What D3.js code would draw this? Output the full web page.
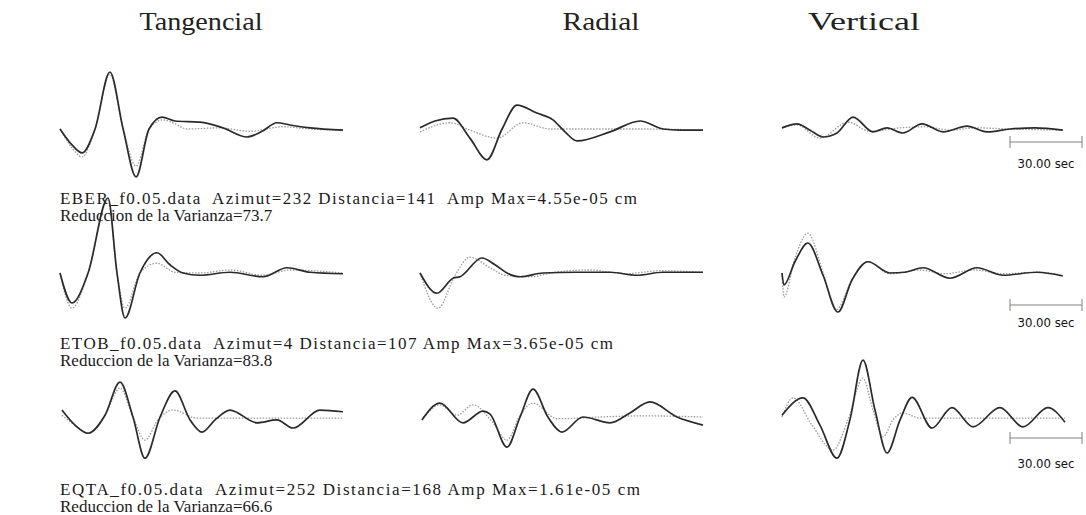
<!DOCTYPE html>
<html>
<head>
<meta charset="utf-8">
<script src="https://cdn.jsdelivr.net/npm/d3@7"></script>
<style>
  html, body { margin: 0; padding: 0; background: #fff; }
  svg { display: block; }
</style>
</head>
<body>
<svg id="chart" width="1086" height="515"></svg>
<script>
// Waveform fit: observed (solid) vs synthetic (dotted) displacement
// for three stations and three components. Time in seconds, amplitude
// in percent of the station's maximum amplitude.

const components = ["Tangencial", "Radial", "Vertical"];
const stations = ["EBER_f0.05.data", "ETOB_f0.05.data", "EQTA_f0.05.data"];
const azimuths = [232, 4, 252];
const distances = [141, 107, 168];
const ampMax = ["4.55e-05", "3.65e-05", "1.61e-05"];
const varianceReduction = ["73.7", "83.8", "66.6"];
const scaleBarSeconds = 30;

// ---- EBER ----
const eberTanObs = [[0,0],[5,-28],[9.2,-42],[14.6,0],[20.8,100],[26.3,0],[31.7,-84],[37.1,0],[42.5,21],[47.9,14],[58.3,12],[67.9,2],[77.9,-14],[84.2,-4],[90.4,11],[95.8,7],[104.2,2],[117.9,-2]];
const eberTanSyn = [[0,0],[5,-33],[9.2,-49],[14.6,0],[20.8,96],[26.3,0],[31.7,-65],[37.1,0],[42.9,16],[47.9,9],[52.9,0],[66.7,2],[79.2,-4],[92.9,4],[104.2,0],[117.9,-2]];
const eberRadObs = [[0,2],[6.25,14],[13.75,19],[20.8,-16],[27.9,-54],[34.2,0],[40.4,42],[48.75,28],[55.4,16],[60.4,-5],[65.4,-21],[79.2,-5],[91.7,14],[101.25,0],[108.3,-2],[117.9,-2]];
const eberRadSyn = [[0,-5],[12.5,11],[20.8,-2],[32.1,-16],[42.9,11],[54.2,0],[75,0],[92.9,0],[117.9,-2]];
const eberVerObs = [[0,2],[6.25,9],[11.7,-2],[17.1,-14],[22.9,-7],[29.6,21],[37.9,-5],[43.75,2],[50.4,-7],[58.3,9],[67.1,-5],[77.1,5],[85.4,-5],[95,0],[105.4,2],[117,-2]];
const eberVerSyn = [[0,2],[6.25,7],[15.8,-16],[27.5,12],[36.7,-4],[49.2,2],[59.6,4],[70,-2],[80.4,2],[95,0],[117,-2]];

// ---- ETOB ----
const etobTanObs = [[0,0],[5,-40],[11.7,0],[20,100],[23.75,0],[27.1,-60],[33.3,0],[40.4,27],[45.8,11],[51.25,0],[58.3,-3],[70.8,1],[84.6,-5],[94.6,7],[104.2,1],[117.9,-1]];
const etobTanSyn = [[0,0],[5,-47],[11.7,0],[20,97],[23.75,0],[27.1,-47],[33.3,0],[40.4,13],[47.9,1],[58.3,0],[70.8,4],[84.6,-3],[95.8,4],[117.9,0]];
const etobRadObs = [[0,0],[7.1,-27],[13.75,-7],[16.7,-5],[25.8,20],[31.25,11],[36.25,0],[41.7,-5],[51.25,0],[64.6,1],[79.2,1],[90.4,-3],[101.25,1],[117.9,1]];
const etobRadSyn = [[0,0],[7.5,-47],[14.6,-3],[20.8,21],[29.2,7],[35.4,-3],[45.8,-5],[56.25,1],[70.8,4],[85.4,-1],[100,3],[117.9,1]];
const etobVerObs = [[0,0],[0.8,-16],[5.4,15],[10.8,40],[17.1,-3],[23.3,-52],[29.2,-9],[35.8,15],[45,0],[51.25,1],[58.75,7],[70,-7],[81.25,7],[92.1,-3],[106.25,1],[117,-4]];
const etobVerSyn = [[0,0],[0.8,-32],[5.4,20],[10.8,53],[17.1,1],[22.5,-49],[29.2,-9],[35.8,15],[45,-1],[57.5,4],[67.9,-1],[80.4,4],[92.1,-1],[106.25,1],[117,-3]];

// ---- EQTA ----
const eqtaTanObs = [[0.8,12],[6.25,-14],[11.7,-28],[18.75,3],[25,60],[30.4,0],[35.4,-71],[41.7,0],[47.9,45],[54.2,-5],[59.2,-26],[64.6,-5],[70.8,12],[82.1,-10],[90.4,-5],[97.1,-19],[108.3,12],[117.9,9]];
const eqtaTanSyn = [[0.8,3],[6.25,-14],[11.7,-28],[18.75,3],[25,50],[30.4,0],[35.4,-40],[40.8,-5],[47.1,12],[57.1,-2],[83.3,-2],[117.9,-2]];
const eqtaRadObs = [[0.8,-5],[8.3,24],[17.9,-10],[26.25,10],[29.2,5],[36.25,-52],[41.7,0],[47.1,48],[53.3,0],[59.2,-26],[67.9,0],[79.2,-10],[87.5,7],[95.8,26],[107.1,0],[117.9,-14]];
const eqtaRadSyn = [[0.8,-5],[8.3,21],[15.4,3],[22.1,21],[30.4,-10],[36.25,-40],[41.7,3],[47.1,24],[57.1,-3],[75,0],[92.9,2],[117.9,0]];
const eqtaVerObs = [[0,3],[8.75,33],[15.8,-14],[22.9,-71],[28.3,-5],[33.75,98],[38.75,12],[43.75,-62],[49.2,-5],[54.2,34],[62.5,-19],[70.8,16],[79.6,-17],[90.8,16],[100.4,-17],[110.8,16],[117.9,-9]];
const eqtaVerSyn = [[0,0],[4.6,33],[12.5,-14],[21.25,-57],[27.5,-5],[33.75,67],[37.9,12],[42.1,-34],[46.25,-5],[50.4,7],[57.5,-2],[90.8,-2],[117.9,-2]];

const observed = [
  [eberTanObs, eberRadObs, eberVerObs],
  [etobTanObs, etobRadObs, etobVerObs],
  [eqtaTanObs, eqtaRadObs, eqtaVerObs]
];
const synthetic = [
  [eberTanSyn, eberRadSyn, eberVerSyn],
  [etobTanSyn, etobRadSyn, etobVerSyn],
  [eqtaTanSyn, eqtaRadSyn, eqtaVerSyn]
];

// ---- layout ----
const colX0 = [60, 420, 782];
const pxPerSecond = 2.4;
const rowBaseline = [129, 273, 417];
const rowHalfHeight = [57, 75, 58];
const barY = [142, 305, 438];
const barLabelY = [168, 327, 468];
const infoY = [204, 349, 495];
const titleX = [201, 601, 864];
const titleWidth = [123, 77, 112];
const infoWidth = [577, 553, 580];
const infoGap = ["  ", " ", " "];

const svg = d3.select("#chart");
const serif = "'Liberation Serif', 'DejaVu Serif', serif";

// Column titles
svg.selectAll("text.title")
  .data(components)
  .join("text")
  .attr("class", "title")
  .attr("x", (d, i) => titleX[i])
  .attr("y", 30)
  .attr("text-anchor", "middle")
  .attr("font-family", serif)
  .attr("font-size", 25)
  .attr("fill", "#222")
  .attr("textLength", (d, i) => titleWidth[i])
  .attr("lengthAdjust", "spacingAndGlyphs")
  .text(d => d);

const line = (x, y) => d3.line()
  .x(d => x(d[0]))
  .y(d => y(d[1]))
  .curve(d3.curveMonotoneX);

stations.forEach((st, r) => {
  const y = d3.scaleLinear()
    .domain([-100, 100])
    .range([rowBaseline[r] + rowHalfHeight[r], rowBaseline[r] - rowHalfHeight[r]]);

  components.forEach((comp, c) => {
    const x = d3.scaleLinear()
      .domain([0, 120])
      .range([colX0[c], colX0[c] + 120 * pxPerSecond]);
    const g = svg.append("g").attr("class", "panel");

    g.append("path")
      .datum(synthetic[r][c])
      .attr("d", line(x, y))
      .attr("fill", "none")
      .attr("stroke", "#9a9a9a")
      .attr("stroke-width", 1.3)
      .attr("stroke-dasharray", "1.5,1.5");

    g.append("path")
      .datum(observed[r][c])
      .attr("d", line(x, y))
      .attr("fill", "none")
      .attr("stroke", "#2a2a2a")
      .attr("stroke-width", 1.7)
      .attr("stroke-linejoin", "round");

    // Time scale bar in the last column
    if (c === 2) {
      const tb = [95, 95 + scaleBarSeconds];
      const bar = svg.append("g").attr("stroke", "#808080").attr("stroke-width", 1);
      bar.append("line")
        .attr("x1", x(tb[0])).attr("x2", x(tb[1]))
        .attr("y1", barY[r]).attr("y2", barY[r]);
      tb.forEach(t => bar.append("line")
        .attr("x1", x(t)).attr("x2", x(t))
        .attr("y1", barY[r] - 6).attr("y2", barY[r] + 6));
      svg.append("text")
        .attr("x", (x(tb[0]) + x(tb[1])) / 2)
        .attr("y", barLabelY[r])
        .attr("text-anchor", "middle")
        .attr("font-family", "'DejaVu Sans Condensed', 'Liberation Sans Narrow', sans-serif")
        .attr("font-size", 12)
        .attr("fill", "#111")
        .attr("textLength", 57)
        .attr("lengthAdjust", "spacingAndGlyphs")
        .text(scaleBarSeconds.toFixed(2) + " sec");
    }
  });

  // Station info
  const info1 = `${st}  Azimut=${azimuths[r]} Distancia=${distances[r]}${infoGap[r]}Amp Max=${ampMax[r]} cm`;
  const info2 = `Reduccion de la Varianza=${varianceReduction[r]}`;
  svg.append("text")
    .attr("x", 60)
    .attr("y", infoY[r])
    .attr("font-family", serif)
    .attr("font-size", 17)
    .attr("fill", "#1a1a1a")
    .style("white-space", "pre")
    .attr("textLength", infoWidth[r])
    .attr("lengthAdjust", "spacing")
    .text(info1);
  svg.append("text")
    .attr("x", 60)
    .attr("y", infoY[r] + 17)
    .attr("font-family", serif)
    .attr("font-size", 17)
    .attr("fill", "#1a1a1a")
    .text(info2);
});
</script>
</body>
</html>
